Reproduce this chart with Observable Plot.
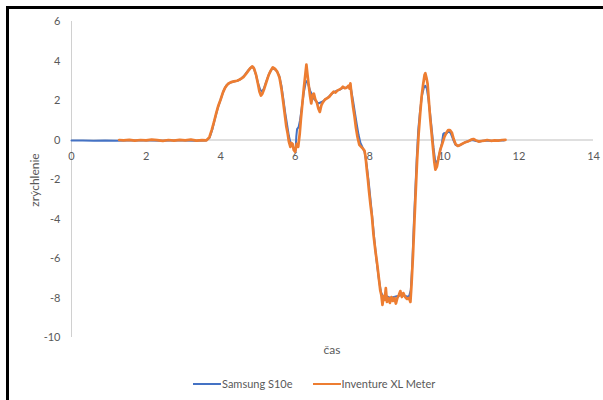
<!DOCTYPE html>
<html><head><meta charset="utf-8">
<script src="https://cdn.jsdelivr.net/npm/d3@7"></script>
<script src="https://cdn.jsdelivr.net/npm/@observablehq/plot@0.6"></script>
<style>
body{margin:0;background:#fff;font-family:Lato,"Open Sans",sans-serif;}
#wrap{position:relative;width:603px;height:400px;overflow:hidden;background:#fff}
#frame{position:absolute;left:6px;top:6px;width:700px;height:500px;border-left:3px solid #000;border-top:3px solid #000;pointer-events:none}
#ylab{position:absolute;left:34px;top:180px;transform:translate(-50%,-50%) rotate(-90deg);font-size:12px;color:#595959;white-space:nowrap}
#xlab{position:absolute;left:332px;top:349px;transform:translate(-50%,-50%);font-size:12px;color:#595959}
#legend{position:absolute;left:193px;top:377px;font-size:11px;color:#595959;display:flex;align-items:center;white-space:nowrap}
.sw{display:inline-block;width:28px;height:2px;margin-right:1px}
.item{display:flex;align-items:center;margin-right:20px}
</style></head>
<body>
<div id="wrap">
  <div id="chart"></div>
  <div id="ylab">zrýchlenie</div>
  <div id="xlab">čas</div>
  <div id="legend"></div>
  <div id="frame"></div>
</div>
<script>
const seriesNames = ["Samsung S10e", "Inventure XL Meter"];
const seriesColors = ["#4472C4", "#ED7D31"];
const xTicks = [0, 2, 4, 6, 8, 10, 12, 14];
const yTicks = [-10, -8, -6, -4, -2, 0, 2, 4, 6];

const samsungT = [0,0.3,0.6,0.9,1.2,1.5,1.8,2.1,2.4,2.7,3.0,3.3,3.6,3.7,3.78,3.85,3.92,4.0,4.08,4.16,4.25,4.35,4.45,4.55,4.65,4.75,4.83,4.88,4.94,5.0,5.06,5.11,5.16,5.22,5.3,5.38,5.44,5.5,5.57,5.63,5.68,5.73,5.78,5.83,5.88,5.93,5.97,6.01,6.03,6.05,6.09,6.13,6.18,6.23,6.28,6.32,6.36,6.4,6.45,6.5,6.56,6.62,6.68,6.74,6.8,6.88,6.96,7.04,7.12,7.2,7.28,7.36,7.44,7.5,7.55,7.6,7.65,7.7,7.75,7.8,7.86,7.92,7.98,8.05,8.12,8.18,8.24,8.3,8.36,8.45,8.55,8.65,8.75,8.85,8.95,9.05,9.1,9.14,9.18,9.22,9.26,9.3,9.35,9.4,9.45,9.49,9.53,9.57,9.62,9.67,9.71,9.75,9.79,9.83,9.88,9.93,9.97,10.0,10.04,10.08,10.13,10.18,10.24,10.3,10.38,10.46,10.55,10.65,10.75,10.85,10.95,11.05,11.15,11.3,11.45,11.6];
const samsungA = [-0.03,-0.03,-0.04,-0.03,-0.04,-0.03,-0.03,-0.03,-0.04,-0.03,-0.03,-0.04,-0.03,0.1,0.55,1.1,1.6,2.05,2.5,2.78,2.9,2.96,3.0,3.1,3.3,3.55,3.7,3.68,3.35,2.9,2.55,2.45,2.6,2.95,3.35,3.62,3.6,3.5,3.25,2.75,2.1,1.4,0.8,0.2,-0.2,-0.3,-0.45,-0.55,0.2,0.55,0.65,1.0,1.7,2.4,2.9,3.0,2.75,2.5,2.3,2.1,1.95,1.85,1.9,1.95,2.05,2.15,2.3,2.42,2.5,2.55,2.65,2.65,2.7,2.55,2.0,1.4,0.8,0.25,-0.15,-0.35,-0.6,-1.3,-2.3,-3.6,-5.0,-6.1,-7.0,-7.7,-7.95,-7.9,-8.0,-7.95,-7.9,-7.85,-7.9,-7.95,-7.6,-6.3,-4.3,-2.6,-0.9,0.5,1.5,2.25,2.65,2.75,2.6,2.1,1.3,0.4,-0.4,-1.0,-1.2,-1.0,-0.6,-0.2,0.3,0.35,0.3,0.38,0.45,0.3,0.0,-0.25,-0.3,-0.22,-0.12,-0.05,0.0,-0.05,-0.08,-0.04,-0.03,-0.05,-0.03,-0.02];

const inventureT = [1.28,1.4,1.55,1.7,1.85,2.0,2.15,2.3,2.45,2.6,2.75,2.9,3.05,3.2,3.35,3.5,3.62,3.7,3.76,3.82,3.88,3.94,4.0,4.06,4.12,4.2,4.28,4.36,4.44,4.5,4.56,4.62,4.68,4.74,4.8,4.85,4.9,4.95,5.0,5.04,5.08,5.12,5.17,5.22,5.28,5.34,5.4,5.46,5.52,5.58,5.63,5.68,5.72,5.76,5.8,5.83,5.87,5.9,5.93,5.96,6.0,6.04,6.08,6.12,6.15,6.19,6.23,6.27,6.3,6.33,6.36,6.4,6.43,6.47,6.5,6.54,6.58,6.62,6.66,6.7,6.74,6.8,6.86,6.92,6.98,7.03,7.08,7.13,7.18,7.23,7.28,7.33,7.38,7.43,7.46,7.48,7.51,7.55,7.59,7.63,7.67,7.72,7.77,7.82,7.86,7.89,7.92,7.95,7.98,8.02,8.06,8.1,8.15,8.2,8.24,8.28,8.31,8.34,8.37,8.4,8.43,8.46,8.5,8.54,8.58,8.62,8.66,8.7,8.74,8.78,8.82,8.86,8.9,8.95,9.0,9.05,9.09,9.12,9.16,9.2,9.23,9.27,9.31,9.35,9.39,9.43,9.47,9.49,9.52,9.55,9.58,9.62,9.66,9.7,9.73,9.76,9.8,9.84,9.89,9.95,10.0,10.05,10.1,10.15,10.2,10.25,10.3,10.36,10.42,10.5,10.58,10.65,10.72,10.78,10.85,10.92,11.0,11.08,11.15,11.25,11.35,11.45,11.55,11.64];
const inventureA = [0.0,-0.02,0.01,-0.03,0.0,-0.02,0.02,-0.01,-0.04,0.0,-0.03,0.01,-0.02,0.02,-0.03,-0.01,-0.02,0.15,0.5,0.9,1.35,1.75,2.05,2.4,2.65,2.85,2.93,2.97,3.0,3.05,3.12,3.2,3.35,3.5,3.65,3.73,3.6,3.3,2.85,2.45,2.25,2.35,2.6,2.9,3.25,3.5,3.68,3.6,3.45,3.15,2.6,1.9,1.3,0.7,0.3,-0.08,-0.35,-0.15,-0.2,-0.5,-0.6,-0.2,-0.35,0.3,1.0,1.8,2.6,3.3,3.82,3.3,2.8,2.2,1.85,2.3,2.35,2.05,1.9,1.6,1.42,1.75,1.9,2.05,2.12,2.2,2.35,2.45,2.4,2.5,2.55,2.6,2.7,2.62,2.65,2.75,2.6,2.87,2.3,1.7,1.2,0.6,0.15,-0.25,-0.35,-0.45,-0.55,-0.9,-1.5,-2.0,-2.6,-3.3,-3.9,-4.8,-5.6,-6.3,-6.95,-7.6,-7.85,-8.35,-7.9,-8.1,-7.5,-8.2,-8.0,-8.25,-7.95,-8.15,-8.0,-8.28,-8.0,-7.85,-7.65,-7.95,-7.75,-7.95,-8.05,-8.0,-8.2,-7.3,-5.8,-4.0,-2.7,-1.0,0.3,1.3,2.2,2.8,3.3,3.38,3.15,2.85,2.1,1.1,0.3,-0.5,-1.1,-1.5,-1.35,-0.95,-0.5,-0.15,0.15,0.35,0.5,0.5,0.38,0.05,-0.2,-0.3,-0.25,-0.17,-0.1,-0.06,0.02,0.05,-0.02,-0.08,-0.05,-0.03,0.0,-0.04,-0.02,-0.03,0.0,0.01];

const samsung = samsungT.map((t, i) => ({t, a: samsungA[i]}));
const inventure = inventureT.map((t, i) => ({t, a: inventureA[i]}));

const chart = Plot.plot({
  width: 603, height: 400,
  marginLeft: 71, marginRight: 10, marginTop: 21, marginBottom: 63,
  style: {fontFamily: "Lato, 'Open Sans', sans-serif", fontSize: "11px", background: "#fff", color: "#595959"},
  x: {domain: [0, 14], axis: null},
  y: {domain: [-10, 6], axis: null},
  marks: [
    Plot.ruleX([0], {stroke: "#d0d0d0", strokeWidth: 1}),
    Plot.ruleY([0], {stroke: "#bfbfbf", strokeWidth: 1}),
    Plot.axisY(yTicks, {tickSize: 0, tickPadding: 11, label: null, fill: "#595959", tickFormat: d => String(d)}),
    Plot.text(xTicks, {x: d => d, y: () => 0, dy: 16, fill: "#595959", text: d => String(d)}),
    Plot.line(samsung, {x: "t", y: "a", stroke: seriesColors[0], strokeWidth: 2}),
    Plot.line(inventure, {x: "t", y: "a", stroke: seriesColors[1], strokeWidth: 2.7})
  ]
});
document.getElementById("chart").appendChild(chart);

const leg = document.getElementById("legend");
seriesNames.forEach((n, i) => {
  const it = document.createElement("span");
  it.className = "item";
  it.innerHTML = `<span class="sw" style="background:${seriesColors[i]}"></span>${n}`;
  leg.appendChild(it);
});
</script>
</body></html>
